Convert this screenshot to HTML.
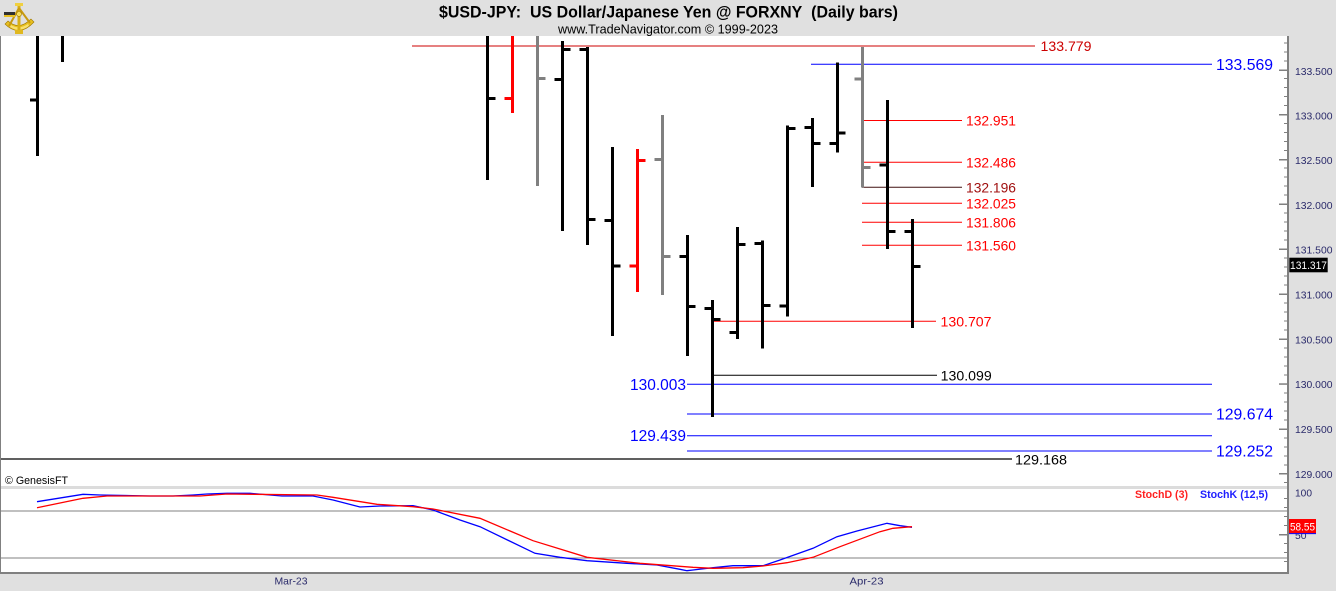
<!DOCTYPE html>
<html><head><meta charset="utf-8"><style>
html,body{margin:0;padding:0;background:#e0e0e0;}
svg{display:block;}
text{font-family:"Liberation Sans",Arial,sans-serif;}
</style></head><body>
<svg width="1336" height="591" viewBox="0 0 1336 591" xmlns="http://www.w3.org/2000/svg">
<rect x="0" y="0" width="1336" height="591" fill="#e0e0e0"/>
<!-- plot areas -->
<rect x="1" y="36" width="1286" height="450" fill="#ffffff"/>
<rect x="1" y="486" width="1286" height="3" fill="#dcdcdc"/>
<rect x="1" y="489" width="1286" height="83" fill="#ffffff"/>
<rect x="0" y="572" width="1289" height="2" fill="#808080"/>
<rect x="0" y="36" width="1" height="538" fill="#808080"/>
<rect x="1287" y="36" width="2" height="538" fill="#808080"/>

<!-- logo -->
<g>
<path d="M5,24 Q19,38 34,22 L31,19 Q19,31 8,21 Z" fill="#e8c020" stroke="#a07800" stroke-width="0.6"/>
<path d="M10,27 Q19,33 29,26 L28,24 Q19,30 11,25 Z" fill="#f8e070"/>
<rect x="17.5" y="4" width="3" height="26" fill="#d8b018"/>
<rect x="15" y="3" width="8" height="3" fill="#f0d040"/>
<path d="M19,8 L9,26 M19,8 L30,23" stroke="#c89a10" stroke-width="2" fill="none"/>
<rect x="4" y="12" width="11" height="3" fill="#303030"/>
<rect x="4" y="15" width="11" height="2" fill="#e8c020"/>
<circle cx="19" cy="14" r="2.5" fill="#f8e060" stroke="#a07800" stroke-width="0.6"/>
<rect x="15" y="30" width="8" height="4" fill="#e0b820"/>
</g>

<!-- title -->
<text x="439" y="17.5" font-size="17" font-weight="bold" fill="#000" textLength="459" lengthAdjust="spacingAndGlyphs">$USD-JPY:&#160; US Dollar/Japanese Yen @ FORXNY&#160; (Daily bars)</text>
<text x="558" y="33.5" font-size="12.5" fill="#000" textLength="220" lengthAdjust="spacingAndGlyphs">www.TradeNavigator.com © 1999-2023</text>

<!-- price axis ticks -->
<g fill="#808080">
<rect x="1284" y="482" width="3" height="1"/>
<rect x="1279" y="473" width="8" height="1.5"/>
<rect x="1284" y="464.5" width="3" height="1"/>
<rect x="1284" y="455.5" width="3" height="1"/>
<rect x="1284" y="446.5" width="3" height="1"/>
<rect x="1284" y="437.5" width="3" height="1"/>
<rect x="1279" y="428.5" width="8" height="1.5"/>
<rect x="1284" y="419.5" width="3" height="1"/>
<rect x="1284" y="410.5" width="3" height="1"/>
<rect x="1284" y="401.5" width="3" height="1"/>
<rect x="1284" y="392.5" width="3" height="1"/>
<rect x="1279" y="383.3" width="8" height="1.5"/>
<rect x="1284" y="374.5" width="3" height="1"/>
<rect x="1284" y="365.5" width="3" height="1"/>
<rect x="1284" y="356.5" width="3" height="1"/>
<rect x="1284" y="347.5" width="3" height="1"/>
<rect x="1279" y="338.5" width="8" height="1.5"/>
<rect x="1284" y="329.5" width="3" height="1"/>
<rect x="1284" y="320.5" width="3" height="1"/>
<rect x="1284" y="311.5" width="3" height="1"/>
<rect x="1284" y="302.5" width="3" height="1"/>
<rect x="1279" y="293.5" width="8" height="1.5"/>
<rect x="1284" y="284.5" width="3" height="1"/>
<rect x="1284" y="275.5" width="3" height="1"/>
<rect x="1284" y="266.5" width="3" height="1"/>
<rect x="1284" y="257.5" width="3" height="1"/>
<rect x="1279" y="248.5" width="8" height="1.5"/>
<rect x="1284" y="239.5" width="3" height="1"/>
<rect x="1284" y="230.5" width="3" height="1"/>
<rect x="1284" y="221.5" width="3" height="1"/>
<rect x="1284" y="212.5" width="3" height="1"/>
<rect x="1279" y="203.5" width="8" height="1.5"/>
<rect x="1284" y="194.5" width="3" height="1"/>
<rect x="1284" y="185.5" width="3" height="1"/>
<rect x="1284" y="176.5" width="3" height="1"/>
<rect x="1284" y="167.5" width="3" height="1"/>
<rect x="1279" y="159" width="8" height="1.5"/>
<rect x="1284" y="150" width="3" height="1"/>
<rect x="1284" y="141" width="3" height="1"/>
<rect x="1284" y="132" width="3" height="1"/>
<rect x="1284" y="123" width="3" height="1"/>
<rect x="1279" y="114" width="8" height="1.5"/>
<rect x="1284" y="105" width="3" height="1"/>
<rect x="1284" y="96" width="3" height="1"/>
<rect x="1284" y="87" width="3" height="1"/>
<rect x="1284" y="78" width="3" height="1"/>
<rect x="1279" y="69.5" width="8" height="1.5"/>
<rect x="1284" y="60.5" width="3" height="1"/>
<rect x="1284" y="51.5" width="3" height="1"/>
<rect x="1284" y="42.5" width="3" height="1"/>
</g>
<g font-size="10.5" fill="#2a2a6a">
<text x="1295" y="75" textLength="37.5" lengthAdjust="spacingAndGlyphs">133.500</text>
<text x="1295" y="119.5" textLength="37.5" lengthAdjust="spacingAndGlyphs">133.000</text>
<text x="1295" y="164" textLength="37.5" lengthAdjust="spacingAndGlyphs">132.500</text>
<text x="1295" y="209" textLength="37.5" lengthAdjust="spacingAndGlyphs">132.000</text>
<text x="1295" y="253.5" textLength="37.5" lengthAdjust="spacingAndGlyphs">131.500</text>
<text x="1295" y="298.5" textLength="37.5" lengthAdjust="spacingAndGlyphs">131.000</text>
<text x="1295" y="343.5" textLength="37.5" lengthAdjust="spacingAndGlyphs">130.500</text>
<text x="1295" y="388" textLength="37.5" lengthAdjust="spacingAndGlyphs">130.000</text>
<text x="1295" y="433" textLength="37.5" lengthAdjust="spacingAndGlyphs">129.500</text>
<text x="1295" y="478" textLength="37.5" lengthAdjust="spacingAndGlyphs">129.000</text>
</g>
<rect x="1289.3" y="257.7" width="38.4" height="14.6" fill="#000"/>
<text x="1290" y="269" font-size="11" fill="#fff" textLength="37" lengthAdjust="spacingAndGlyphs">131.317</text>

<!-- horizontal level lines -->
<g stroke-width="1" fill="none">
<line x1="412" y1="46" x2="1035" y2="46" stroke="#cc0000"/>
<line x1="811" y1="64.3" x2="1212" y2="64.3" stroke="#0000ff"/>
<line x1="862" y1="120.5" x2="962" y2="120.5" stroke="#ff0000"/>
<line x1="862" y1="162.3" x2="962" y2="162.3" stroke="#ff0000"/>
<line x1="862" y1="187.3" x2="962" y2="187.3" stroke="#401010"/>
<line x1="862" y1="203.3" x2="962" y2="203.3" stroke="#ff0000"/>
<line x1="862" y1="222.3" x2="962" y2="222.3" stroke="#ff0000"/>
<line x1="862" y1="245.3" x2="962" y2="245.3" stroke="#ff0000"/>
<line x1="712" y1="321.3" x2="936" y2="321.3" stroke="#ff0000"/>
<line x1="713" y1="375.3" x2="937" y2="375.3" stroke="#000000"/>
<line x1="687" y1="384.3" x2="1212" y2="384.3" stroke="#0000ff"/>
<line x1="687" y1="414" x2="1212" y2="414" stroke="#0000ff"/>
<line x1="687" y1="435.7" x2="1212" y2="435.7" stroke="#0000ff"/>
<line x1="687" y1="451" x2="1212" y2="451" stroke="#0000ff"/>
<line x1="1" y1="459" x2="1012" y2="459" stroke="#000000" stroke-width="1.3"/>
</g>

<!-- price bars -->
<g>
<rect x="36" y="36" width="3" height="120" fill="#000"/>
<rect x="30" y="98.5" width="6" height="3" fill="#000"/>
<rect x="61" y="36" width="3" height="26" fill="#000"/>
<rect x="486" y="36" width="3" height="144" fill="#000"/>
<rect x="489" y="97" width="6.5" height="3" fill="#000"/>
<rect x="511" y="36" width="3" height="77" fill="#ff0000"/>
<rect x="504.5" y="97" width="6.5" height="3" fill="#ff0000"/>
<rect x="536" y="36" width="3" height="150" fill="#808080"/>
<rect x="539" y="77" width="6.5" height="3" fill="#808080"/>
<rect x="561" y="41" width="3" height="190" fill="#000"/>
<rect x="554.5" y="78" width="6.5" height="3" fill="#000"/>
<rect x="564" y="48" width="6.5" height="3" fill="#000"/>
<rect x="586" y="47" width="3" height="198" fill="#000"/>
<rect x="579.5" y="48" width="6.5" height="3" fill="#000"/>
<rect x="589" y="218" width="6.5" height="3" fill="#000"/>
<rect x="611" y="147" width="3" height="189" fill="#000"/>
<rect x="604.5" y="219" width="6.5" height="3" fill="#000"/>
<rect x="614" y="264.5" width="6.5" height="3" fill="#000"/>
<rect x="636" y="149" width="3" height="143" fill="#ff0000"/>
<rect x="629.5" y="264.5" width="6.5" height="3" fill="#ff0000"/>
<rect x="639" y="159" width="6.5" height="3" fill="#ff0000"/>
<rect x="661" y="115" width="3" height="180" fill="#808080"/>
<rect x="654.5" y="158" width="6.5" height="3" fill="#808080"/>
<rect x="664" y="255" width="6.5" height="3" fill="#808080"/>
<rect x="686" y="235" width="3" height="121" fill="#000"/>
<rect x="679.5" y="255" width="6.5" height="3" fill="#000"/>
<rect x="689" y="305" width="6.5" height="3" fill="#000"/>
<rect x="711" y="300" width="3" height="117" fill="#000"/>
<rect x="704.5" y="307" width="6.5" height="3" fill="#000"/>
<rect x="714" y="318" width="6.5" height="3" fill="#000"/>
<rect x="736" y="227" width="3" height="112" fill="#000"/>
<rect x="729.5" y="331" width="6.5" height="3" fill="#000"/>
<rect x="739" y="243" width="6.5" height="3" fill="#000"/>
<rect x="761" y="240.5" width="3" height="108" fill="#000"/>
<rect x="754.5" y="242" width="6.5" height="3" fill="#000"/>
<rect x="764" y="304" width="6.5" height="3" fill="#000"/>
<rect x="786" y="125.5" width="3" height="191" fill="#000"/>
<rect x="779.5" y="304.5" width="6.5" height="3" fill="#000"/>
<rect x="789" y="127" width="6.5" height="3" fill="#000"/>
<rect x="811" y="118" width="3" height="69" fill="#000"/>
<rect x="804.5" y="126" width="6.5" height="3" fill="#000"/>
<rect x="814" y="142" width="6.5" height="3" fill="#000"/>
<rect x="836" y="62.5" width="3" height="90" fill="#000"/>
<rect x="829.5" y="142" width="6.5" height="3" fill="#000"/>
<rect x="839" y="131.5" width="6.5" height="3" fill="#000"/>
<rect x="861" y="47" width="3" height="140.5" fill="#808080"/>
<rect x="854.5" y="77.5" width="6.5" height="3" fill="#808080"/>
<rect x="864" y="166" width="6.5" height="3" fill="#808080"/>
<rect x="886" y="100" width="3" height="149" fill="#000"/>
<rect x="879.5" y="163.5" width="6.5" height="3" fill="#000"/>
<rect x="889" y="230" width="6.5" height="3" fill="#000"/>
<rect x="911" y="219" width="3" height="109" fill="#000"/>
<rect x="904.5" y="230" width="6.5" height="3" fill="#000"/>
<rect x="914" y="265" width="6.5" height="3" fill="#000"/>
</g>

<!-- level labels -->
<g font-size="14">
<text x="1040.5" y="51" fill="#cc0000" textLength="51" lengthAdjust="spacingAndGlyphs">133.779</text>
<text x="966" y="125.7" fill="#ff0000" textLength="50" lengthAdjust="spacingAndGlyphs">132.951</text>
<text x="966" y="167.3" fill="#ff0000" textLength="50" lengthAdjust="spacingAndGlyphs">132.486</text>
<text x="966" y="192.3" fill="#a01010" textLength="50" lengthAdjust="spacingAndGlyphs">132.196</text>
<text x="966" y="208.3" fill="#ff0000" textLength="50" lengthAdjust="spacingAndGlyphs">132.025</text>
<text x="966" y="227.3" fill="#ff0000" textLength="50" lengthAdjust="spacingAndGlyphs">131.806</text>
<text x="966" y="250.3" fill="#ff0000" textLength="50" lengthAdjust="spacingAndGlyphs">131.560</text>
<text x="940.5" y="326.3" fill="#ff0000" textLength="51" lengthAdjust="spacingAndGlyphs">130.707</text>
<text x="940.7" y="380.3" fill="#000000" textLength="51" lengthAdjust="spacingAndGlyphs">130.099</text>
<text x="1015" y="464.5" fill="#000000" textLength="52" lengthAdjust="spacingAndGlyphs">129.168</text>
</g>
<g font-size="15.5" fill="#0000ff">
<text x="1216" y="69.8" textLength="57" lengthAdjust="spacingAndGlyphs">133.569</text>
<text x="630" y="389.8" textLength="56" lengthAdjust="spacingAndGlyphs">130.003</text>
<text x="1216" y="419.5" textLength="57" lengthAdjust="spacingAndGlyphs">129.674</text>
<text x="630" y="441.2" textLength="56" lengthAdjust="spacingAndGlyphs">129.439</text>
<text x="1216" y="456.5" textLength="57" lengthAdjust="spacingAndGlyphs">129.252</text>
</g>

<text x="5" y="484" font-size="11" fill="#000" textLength="63" lengthAdjust="spacingAndGlyphs">© GenesisFT</text>

<!-- stochastic panel -->
<line x1="1" y1="511" x2="1287" y2="511" stroke="#808080" stroke-width="1"/>
<line x1="1" y1="558" x2="1287" y2="558" stroke="#808080" stroke-width="1"/>
<polyline fill="none" stroke="#0000ff" stroke-width="1.3" points="37,501.7 83,494.3 100,495 150,496 173,496 193,495 207,494 227,493.3 250,493.3 270,495 282,496 313,496 333,500 360,507 380,506 413,505.7 433,510 460,520 480,526.7 535,553.3 560,557.3 587,560.7 627,563.3 657,565 680,569.3 687,570.7 693,570 707,568.3 733,565.7 763,565.7 780,560 813,548.3 837,536.7 857,531 887,523.3 900,525.7 912,527.3"/>
<polyline fill="none" stroke="#ff0000" stroke-width="1.3" points="37,507.7 83,498.3 107,496 200,496 227,494 317,495 333,497.3 377,504.3 413,506.7 433,509 480,518.3 533,540.7 587,557.3 640,563.3 693,567.3 713,568.3 743,567.7 763,566 787,562.7 813,557.3 840,546.7 880,531.7 893,528.3 912,526.7"/>
<text x="1135" y="498" font-size="10.6" font-weight="bold" fill="#ff2020" textLength="53" lengthAdjust="spacingAndGlyphs">StochD (3)</text>
<text x="1200" y="498" font-size="10.6" font-weight="bold" fill="#2020ff" textLength="68" lengthAdjust="spacingAndGlyphs">StochK (12,5)</text>

<g fill="#808080">
<rect x="1284" y="498" width="3" height="1"/>
<rect x="1284" y="507" width="3" height="1"/>
<rect x="1284" y="516" width="3" height="1"/>
<rect x="1284" y="525" width="3" height="1"/>
<rect x="1279" y="534" width="8" height="1.5"/>
<rect x="1284" y="543" width="3" height="1"/>
<rect x="1284" y="552" width="3" height="1"/>
<rect x="1284" y="561" width="3" height="1"/>
</g>
<text x="1295" y="496.5" font-size="10.5" fill="#2a2a6a" textLength="17" lengthAdjust="spacingAndGlyphs">100</text>
<text x="1295" y="539" font-size="10.5" fill="#2a2a6a" textLength="11.5" lengthAdjust="spacingAndGlyphs">50</text>
<rect x="1289" y="519" width="27" height="14.3" fill="#ff0000"/>
<line x1="1289" y1="533.6" x2="1316" y2="533.6" stroke="#0000ff" stroke-width="1"/>
<text x="1290" y="530.5" font-size="11" fill="#fff" textLength="25" lengthAdjust="spacingAndGlyphs">58.55</text>

<!-- date axis -->
<text x="274.5" y="584.5" font-size="10.5" fill="#2a2a6a" textLength="33" lengthAdjust="spacingAndGlyphs">Mar-23</text>
<text x="849.5" y="584.5" font-size="10.5" fill="#2a2a6a" textLength="34" lengthAdjust="spacingAndGlyphs">Apr-23</text>
</svg>
</body></html>
